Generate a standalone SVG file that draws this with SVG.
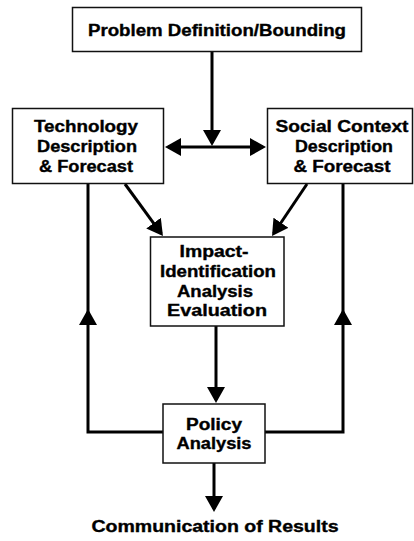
<svg xmlns="http://www.w3.org/2000/svg" width="414" height="541" viewBox="0 0 414 541">
<style>
.box{fill:#fff;stroke:#111;stroke-width:1.5}
.t{font-family:"Liberation Sans",Arial,sans-serif;font-weight:bold;font-size:16px;fill:#000;stroke:#000;stroke-width:0.35;text-anchor:middle}
.c{fill:none;stroke:#000;stroke-width:3}
</style>
<defs>
<marker id="ah" viewBox="0 0 16 18" refX="13" refY="9" markerWidth="16" markerHeight="18" orient="auto" markerUnits="userSpaceOnUse">
<path d="M0,0 L16,9 L0,18 Z" fill="#000"/>
</marker>
</defs>
<rect width="414" height="541" fill="#fff"/>
<g id="connectors">
<line class="c" x1="212" y1="52" x2="212" y2="143" marker-end="url(#ah)"/>
<line class="c" x1="212" y1="147" x2="168" y2="147" marker-end="url(#ah)"/>
<line class="c" x1="212" y1="147" x2="263" y2="147" marker-end="url(#ah)"/>
<line class="c" x1="125" y1="184" x2="161.2" y2="233.6" marker-end="url(#ah)"/>
<line class="c" x1="307" y1="184" x2="273.7" y2="233.5" marker-end="url(#ah)"/>
<line class="c" x1="216" y1="326" x2="216" y2="400" marker-end="url(#ah)"/>
<path class="c" d="M163,432 H88 V312" marker-end="url(#ah)"/>
<path class="c" d="M88,320 V184"/>
<path class="c" d="M265,432 H343 V312" marker-end="url(#ah)"/>
<path class="c" d="M343,320 V184"/>
<line class="c" x1="214" y1="463" x2="214" y2="509" marker-end="url(#ah)"/>
</g>
<g id="problem">
<rect class="box" x="72.5" y="7.5" width="289" height="44"/>
<text class="t" x="217" y="36" textLength="258" lengthAdjust="spacingAndGlyphs">Problem Definition/Bounding</text>
</g>
<g id="technology">
<rect class="box" x="12.5" y="108.5" width="151" height="75"/>
<text class="t" x="86" y="132" textLength="104" lengthAdjust="spacingAndGlyphs">Technology</text>
<text class="t" x="87" y="152" textLength="100" lengthAdjust="spacingAndGlyphs">Description</text>
<text class="t" x="86" y="172" textLength="94" lengthAdjust="spacingAndGlyphs">&amp; Forecast</text>
</g>
<g id="social">
<rect class="box" x="267.5" y="108.5" width="145" height="75"/>
<text class="t" x="342" y="132" textLength="133" lengthAdjust="spacingAndGlyphs">Social Context</text>
<text class="t" x="344" y="152" textLength="98" lengthAdjust="spacingAndGlyphs">Description</text>
<text class="t" x="342" y="172" textLength="97" lengthAdjust="spacingAndGlyphs">&amp; Forecast</text>
</g>
<g id="impact">
<rect class="box" x="150.5" y="237" width="133.5" height="89"/>
<text class="t" x="214" y="257" textLength="69" lengthAdjust="spacingAndGlyphs">Impact-</text>
<text class="t" x="218" y="277" textLength="116" lengthAdjust="spacingAndGlyphs">Identification</text>
<text class="t" x="215" y="297" textLength="76" lengthAdjust="spacingAndGlyphs">Analysis</text>
<text class="t" x="217" y="316" textLength="100" lengthAdjust="spacingAndGlyphs">Evaluation</text>
</g>
<g id="policy">
<rect class="box" x="163" y="404" width="102" height="59"/>
<text class="t" x="214" y="430" textLength="56" lengthAdjust="spacingAndGlyphs">Policy</text>
<text class="t" x="214" y="449" textLength="75" lengthAdjust="spacingAndGlyphs">Analysis</text>
</g>
<g id="communication">
<text class="t" x="215" y="532" textLength="247" lengthAdjust="spacingAndGlyphs">Communication of Results</text>
</g>
</svg>
